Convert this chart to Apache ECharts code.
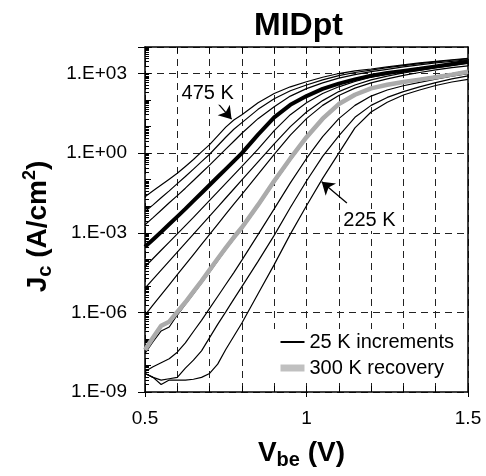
<!DOCTYPE html>
<html><head><meta charset="utf-8">
<script src="https://cdn.jsdelivr.net/npm/echarts@6/dist/echarts.min.js"></script>
<style>html,body{margin:0;padding:0;background:#fff}#c{width:486px;height:476px}</style>
</head><body><div id="c"></div>
<script>
// ---- data ----
const Vbe = [0.5,0.525,0.55,0.575,0.6,0.625,0.65,0.675,0.7,0.725,0.75,0.775,0.8,0.85,0.9,0.95,1.0,1.05,1.1,1.15,1.2,1.25,1.3,1.35,1.4,1.45,1.5];
// log10 of Jc (A/cm^2) at each Vbe
const logJ_475K = [-1.64,-1.42,-1.2,-0.98,-0.76,-0.5,-0.24,0.05,0.32,0.65,0.98,1.25,1.45,1.9,2.25,2.5,2.69,2.86,3.0,3.1,3.17,3.25,3.33,3.4,3.46,3.52,3.57];
const logJ_450K = [-2.2,-1.95,-1.68,-1.42,-1.15,-0.88,-0.6,-0.32,-0.04,0.28,0.6,0.9,1.15,1.65,2.05,2.35,2.57,2.76,2.92,3.04,3.13,3.22,3.3,3.37,3.44,3.5,3.55];
const logJ_425K = [-2.7,-2.43,-2.15,-1.87,-1.6,-1.32,-1.03,-0.74,-0.45,-0.15,0.15,0.45,0.75,1.3,1.75,2.15,2.43,2.65,2.83,2.96,3.07,3.16,3.25,3.33,3.4,3.46,3.52];
const logJ_400K = [-3.53,-3.25,-2.97,-2.68,-2.39,-2.1,-1.8,-1.5,-1.2,-0.9,-0.6,-0.3,0.0,0.7,1.35,1.82,2.15,2.42,2.62,2.78,2.92,3.02,3.1,3.18,3.27,3.36,3.45];
const logJ_375K = [-4.28,-3.97,-3.66,-3.35,-3.04,-2.73,-2.42,-2.1,-1.78,-1.46,-1.14,-0.82,-0.5,0.15,0.85,1.45,1.9,2.25,2.5,2.7,2.86,2.98,3.08,3.17,3.26,3.34,3.42];
const logJ_350K = [-5.09,-4.75,-4.41,-4.07,-3.73,-3.39,-3.05,-2.71,-2.37,-2.03,-1.69,-1.35,-1.01,-0.33,0.35,1.0,1.55,1.98,2.32,2.57,2.76,2.9,3.02,3.12,3.21,3.3,3.38];
const logJ_325K = [-6.1,-5.72,-5.34,-4.96,-4.58,-4.2,-3.82,-3.44,-3.06,-2.68,-2.3,-1.92,-1.55,-0.8,-0.05,0.68,1.3,1.8,2.17,2.45,2.65,2.8,2.93,3.04,3.14,3.22,3.29];
const logJ_300K = [-7.55,-7.1,-6.7,-6.55,-6.1,-5.7,-5.3,-4.9,-4.48,-4.06,-3.64,-3.24,-2.86,-2.02,-1.12,-0.26,0.55,1.25,1.82,2.2,2.45,2.6,2.71,2.8,2.9,3.0,3.1];
const logJ_275K = [-8.23,-8.05,-7.9,-7.75,-7.5,-7.15,-6.72,-6.3,-5.85,-5.4,-4.95,-4.5,-4.03,-3.07,-2.1,-1.12,-0.2,0.62,1.3,1.8,2.15,2.38,2.54,2.67,2.79,2.9,3.0];
const logJ_250K = [-8.3,-8.45,-8.55,-8.5,-8.45,-8.1,-7.8,-7.45,-6.95,-6.45,-5.98,-5.5,-5.03,-4.08,-3.1,-2.05,-1.05,-0.12,0.65,1.35,1.8,2.1,2.32,2.5,2.66,2.8,2.91];
const logJ_225K = [-8.3,-8.45,-8.72,-8.55,-8.55,-8.55,-8.52,-8.45,-8.3,-7.95,-7.4,-6.9,-6.4,-5.3,-4.2,-3.05,-1.98,-0.95,0.0,0.95,1.55,1.92,2.19,2.38,2.55,2.68,2.78];
const logJ_300K_recovery = [-7.42,-6.95,-6.5,-6.35,-5.98,-5.62,-5.22,-4.82,-4.4,-3.98,-3.57,-3.17,-2.8,-1.95,-1.05,-0.2,0.6,1.3,1.85,2.2,2.44,2.58,2.68,2.77,2.86,2.96,3.07];

const xTickValues = [0.5, 1.0, 1.5];
const xTickLabels = ['0.5', '1', '1.5'];
const yTickExponents = [-9, -6, -3, 0, 3];
const yTickLabels = ['1.E-09', '1.E-06', '1.E-03', '1.E+00', '1.E+03'];
const legendNames = ['25 K increments', '300 K recovery'];
const annotations = [
  {text: '475 K', label: [0.694, 2.24], tail: [0.717, 2.0], head: [0.768, 1.28]},
  {text: '225 K', label: [1.195, -2.52], tail: [1.125, -1.88], head: [1.047, -1.08]}
];

// ---- chart ----
const FONT = '"Liberation Sans", Arial, Helvetica, sans-serif';
const GRAY = '#ababab';
const pts = arr => Vbe.map((v, i) => [v, Math.pow(10, arr[i])]);
const chart = echarts.init(document.getElementById('c'), null, {renderer: 'canvas'});

function lineSeries(name, arr, color, width, z) {
  return {
    type: 'line', name: name, data: pts(arr), symbol: 'none', showSymbol: false,
    lineStyle: {color: color, width: width}, itemStyle: {color: color},
    emphasis: {disabled: true}, silent: true, z: z, animation: false
  };
}
const blackSets = [logJ_475K, logJ_450K, logJ_425K, logJ_375K, logJ_350K, logJ_325K, logJ_300K, logJ_275K, logJ_250K, logJ_225K];
const series = [];
blackSets.forEach(a => series.push(lineSeries(legendNames[0], a, '#000', 1.2, 2)));
series.push(lineSeries(legendNames[0], logJ_400K, '#000', 4, 3));
series.push(lineSeries(legendNames[1], logJ_300K_recovery, GRAY, 4.5, 4));

// annotation arrows + labels
series.push({
  type: 'line', data: [], silent: true, animation: false, z: 6,
  markLine: {
    silent: true, animation: false, symbol: ['none', 'arrow'], symbolSize: 12,
    lineStyle: {color: '#000', width: 1.3, type: 'solid'}, label: {show: false},
    data: annotations.map(a => [
      {coord: [a.tail[0], Math.pow(10, a.tail[1])], symbol: 'none'},
      {coord: [a.head[0], Math.pow(10, a.head[1])], symbol: 'arrow', symbolSize: 12, itemStyle: {color: '#000'}}
    ])
  },
  markPoint: {
    silent: true, animation: false, symbol: 'rect', symbolSize: 1, itemStyle: {color: 'rgba(0,0,0,0)'},
    label: {show: true, position: 'inside', color: '#000', fontSize: 20, fontFamily: FONT, backgroundColor: '#fff', padding: [1, 2]},
    data: annotations.map(a => ({coord: [a.label[0], Math.pow(10, a.label[1])], value: a.text, label: {formatter: a.text}}))
  }
});

const dash = {color: '#222', type: [7, 5], width: 1};
const richName = {
  b: {fontSize: 28, fontWeight: 'bold', fontFamily: FONT, color: '#000', lineHeight: 34},
  s: {fontSize: 20, fontWeight: 'bold', fontFamily: FONT, color: '#000', verticalAlign: 'bottom', lineHeight: 18},
  p: {fontSize: 18, fontWeight: 'bold', fontFamily: FONT, color: '#000', verticalAlign: 'top', lineHeight: 16}
};
const option = {
  animation: false,
  backgroundColor: '#fff',
  textStyle: {fontFamily: FONT},
  title: {text: 'MIDpt', left: 254, top: 10, padding: 0,
    textStyle: {fontSize: 32, fontWeight: 'bold', color: '#000', fontFamily: FONT}},
  grid: {left: 145, top: 47, width: 323, height: 345, containLabel: false},
  legend: {
    data: [
      {name: legendNames[0], lineStyle: {width: 2, color: '#000'}},
      {name: legendNames[1], lineStyle: {width: 7, color: '#c0c0c0'}}
    ],
    orient: 'vertical', left: 273, top: 329,
    itemWidth: 24, itemHeight: 12, itemGap: 6, padding: [3, 5, 3, 4],
    backgroundColor: '#fff', selectedMode: false,
    itemStyle: {opacity: 0, borderWidth: 0},
    textStyle: {fontSize: 20, color: '#000', fontFamily: FONT}
  },
  xAxis: [
    {type: 'value', min: 0.5, max: 1.5, interval: 0.1, position: 'bottom',
      axisLine: {show: true, lineStyle: {color: '#000', width: 1.5}},
      axisTick: {show: true, inside: true, length: 6, lineStyle: {color: '#000', width: 1}},
      axisLabel: {show: true, margin: 17, fontSize: 19, color: '#000', fontFamily: FONT,
        formatter: v => { const k = xTickValues.findIndex(t => Math.abs(t - v) < 1e-6); return k >= 0 ? xTickLabels[k] : ''; }},
      splitLine: {show: true, lineStyle: dash},
      name: '{b|V}{s|be}{b| (V)}', nameLocation: 'middle', nameGap: 44,
      nameTextStyle: {color: '#000', padding: [0, 10, 0, 0], rich: richName}
    },
    {type: 'value', min: 0.5, max: 1.5, interval: 0.5, position: 'bottom',
      axisLine: {show: false}, axisTick: {show: true, inside: false, length: 5, lineStyle: {color: '#000', width: 1}},
      axisLabel: {show: false}, splitLine: {show: false}},
    {type: 'value', min: 0.5, max: 1.5, interval: 0.1, position: 'top',
      axisLine: {show: true, lineStyle: {color: '#000', width: 1.5}},
      axisTick: {show: true, inside: true, length: 6, lineStyle: {color: '#000', width: 1}},
      axisLabel: {show: false}, splitLine: {show: false}}
  ],
  yAxis: [
    {type: 'log', logBase: 10, min: 1e-9, max: 1e4, interval: 3, position: 'left',
      axisLine: {show: true, lineStyle: {color: '#000', width: 1.5}},
      axisTick: {show: true, inside: false, length: 7, lineStyle: {color: '#000', width: 1}},
      axisLabel: {show: true, margin: 18, fontSize: 19, color: '#000', fontFamily: FONT,
        formatter: v => { const e = Math.round(Math.log10(v)); const k = yTickExponents.indexOf(e); return k >= 0 ? yTickLabels[k] : ''; }},
      splitLine: {show: true, lineStyle: dash},
      name: '{b|J}{s|c}{b| (A/cm}{p|2}{b|)}', nameLocation: 'middle', nameRotate: 90, nameGap: 86,
      nameTextStyle: {color: '#000', padding: [0, 14, 0, 0], rich: richName}
    },
    {type: 'log', logBase: 10, min: 1e-9, max: 1e4, interval: 1, position: 'left',
      axisLine: {show: false},
      axisTick: {show: true, inside: true, length: 6, lineStyle: {color: '#000', width: 1}},
      minorTick: {show: true, splitNumber: 10, length: 4, lineStyle: {color: '#000', width: 1}},
      axisLabel: {show: false}, splitLine: {show: false}},
    {type: 'log', logBase: 10, min: 1e-9, max: 1e4, position: 'right',
      axisLine: {show: true, lineStyle: {color: '#000', width: 1.5}},
      axisTick: {show: false}, axisLabel: {show: false}, splitLine: {show: false}}
  ],
  series: series
};
chart.setOption(option);
</script></body></html>
